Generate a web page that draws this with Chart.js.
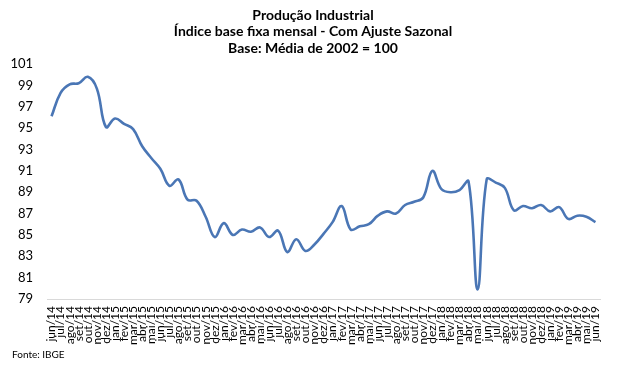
<!DOCTYPE html>
<html>
<head>
<meta charset="utf-8">
<script src="https://cdn.jsdelivr.net/npm/chart.js@4"></script>
<style>
  html, body { margin: 0; padding: 0; background: #fff; }
  #wrap { width: 626px; height: 380px; }
</style>
</head>
<body>
<div id="wrap"><canvas id="chart" width="626" height="380"></canvas></div>
<script>
// months jun/14 .. jun/19
const labels = [
  'jun/14', 'jul/14', 'ago/14', 'set/14', 'out/14', 'nov/14', 'dez/14',
  'jan/15', 'fev/15', 'mar/15', 'abr/15', 'mai/15', 'jun/15', 'jul/15', 'ago/15', 'set/15', 'out/15', 'nov/15', 'dez/15',
  'jan/16', 'fev/16', 'mar/16', 'abr/16', 'mai/16', 'jun/16', 'jul/16', 'ago/16', 'set/16', 'out/16', 'nov/16', 'dez/16',
  'jan/17', 'fev/17', 'mar/17', 'abr/17', 'mai/17', 'jun/17', 'jul/17', 'ago/17', 'set/17', 'out/17', 'nov/17', 'dez/17',
  'jan/18', 'fev/18', 'mar/18', 'abr/18', 'mai/18', 'jun/18', 'jul/18', 'ago/18', 'set/18', 'out/18', 'nov/18', 'dez/18',
  'jan/19', 'fev/19', 'mar/19', 'abr/19', 'mai/19', 'jun/19'
];

const indice = [
  96.1, 98.3, 99.1, 99.2, 99.8, 98.7, 95.1,
  95.9, 95.4, 94.9, 93.3, 92.2, 91.2, 89.6, 90.2, 88.3, 88.2, 86.7, 84.8,
  86.1, 85.0, 85.5, 85.3, 85.7, 84.8, 85.4, 83.4, 84.6, 83.5, 84.1, 85.1,
  86.2, 87.7, 85.5, 85.8, 86.0, 86.8, 87.2, 87.0, 87.8, 88.1, 88.5, 91.0,
  89.3, 89.0, 89.2, 90.0, 79.9, 90.2, 89.9, 89.4, 87.3, 87.7, 87.5, 87.8,
  87.2, 87.6, 86.5, 86.8, 86.7, 86.2
];

const yTicks = [79, 81, 83, 85, 87, 89, 91, 93, 95, 97, 99, 101];

const titleLines = [
  'Produção Industrial',
  'Índice base fixa mensal - Com Ajuste Sazonal',
  'Base: Média de 2002 = 100'
];
const fonte = 'Fonte: IBGE';

// title centred on the whole picture + source note at bottom left
const textPlugin = {
  id: 'texts',
  afterDraw(chart) {
    const ctx = chart.ctx;
    ctx.save();
    ctx.fillStyle = '#000';
    ctx.textBaseline = 'middle';
    ctx.textAlign = 'center';
    ctx.font = 'bold 14px Lato';
    titleLines.forEach((t, i) => ctx.fillText(t, 313, 15 + i * 16.5));
    ctx.textAlign = 'left';
    ctx.font = '10px Lato';
    ctx.fillText(fonte, 12, 355);
    ctx.restore();
  }
};

new Chart(document.getElementById('chart'), {
  type: 'line',
  data: {
    labels,
    datasets: [{
      label: 'Índice',
      data: indice,
      borderColor: '#4a76b5',
      borderWidth: 2.6,
      pointRadius: 0,
      fill: false,
      tension: 0.4
    }]
  },
  options: {
    responsive: false,
    animation: false,
    layout: { padding: { left: 0, right: 26, top: 64, bottom: 35 } },
    plugins: {
      legend: { display: false },
      tooltip: { enabled: false },
      title: { display: false }
    },
    scales: {
      x: {
        offset: true,
        grid: { display: false, drawTicks: false },
        border: { display: true, color: '#d9d9d9', width: 1 },
        ticks: {
          autoSkip: false,
          maxRotation: 90,
          minRotation: 90,
          padding: 7,
          color: '#000',
          font: { family: 'Lato', size: 12 }
        },
        afterFit: (s) => { s.height = 46; }
      },
      y: {
        min: 79,
        max: 101,
        afterBuildTicks: (s) => { s.ticks = yTicks.map(v => ({ value: v })); },
        grid: { display: false, drawTicks: false },
        border: { display: false },
        ticks: {
          padding: 14,
          color: '#000',
          font: { family: 'Lato', size: 13 }
        },
        afterFit: (s) => { s.width = 47; }
      }
    }
  },
  plugins: [textPlugin]
});
</script>
</body>
</html>
